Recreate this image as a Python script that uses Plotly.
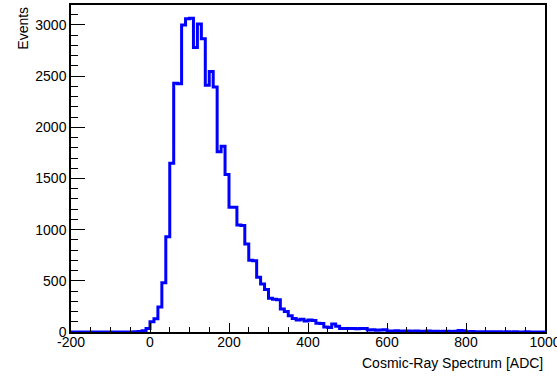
import plotly.graph_objects as go

# ---- data -------------------------------------------------------------
bin_low = -200
bin_width = 10
counts = [
    # -200 .. -10
    0, 0, 0, 0, 0, 0, 0, 0, 0, 0, 0, 0, 0, 0, 0, 0, 2, 5, 12, 33,
    # 0 .. 90
    100, 130, 245, 480, 930, 1650, 2430, 2425, 3000, 3060,
    # 100 .. 190
    3065, 2780, 3010, 2865, 2410, 2545, 2395, 1760, 1815, 1540,
    # 200 .. 290
    1220, 1218, 1045, 1040, 860, 700, 695, 535, 470, 415,
    # 300 .. 390
    330, 320, 315, 225, 200, 158, 133, 117, 125, 108,
    # 400 .. 490
    118, 112, 85, 82, 50, 45, 78, 55, 35, 33,
    # 500 .. 590
    35, 33, 32, 35, 33, 20, 22, 18, 20, 21,
    # 600 .. 690
    10, 9, 11, 8, 9, 10, 8, 9, 7, 8,
    # 700 .. 790
    9, 7, 8, 6, 7, 8, 6, 7, 15, 12,
    # 800 .. 890
    3, 4, 2, 3, 2, 2, 3, 2, 2, 1,
    # 900 .. 990
    2, 1, 2, 1, 1, 2, 1, 1, 1, 1,
]
x_tickvals = [-200, 0, 200, 400, 600, 800, 1000]
x_ticktext = ["-200", "0", "200", "400", "600", "800", "1000"]
y_tickvals = [0, 500, 1000, 1500, 2000, 2500, 3000]
y_ticktext = ["0", "500", "1000", "1500", "2000", "2500", "3000"]
x_title = "Cosmic-Ray Spectrum [ADC]"
y_title = "Events"

edges = [bin_low + i * bin_width for i in range(len(counts) + 1)]
ys = counts + [counts[-1]]

FONT = "Liberation Sans, Arial, Helvetica, sans-serif"

fig = go.Figure()
fig.add_trace(go.Scatter(
    x=edges, y=ys, mode="lines", line_shape="hv",
    line=dict(color="#0000ff", width=3), showlegend=False, hoverinfo="skip",
))

fig.update_layout(
    width=557, height=377,
    margin=dict(l=71, r=12, t=5, b=45, autoexpand=False),
    paper_bgcolor="white", plot_bgcolor="white",
    font=dict(family=FONT, size=14, color="black"),
    xaxis=dict(
        range=[-200, 1000], tickmode="array", tickvals=x_tickvals, ticktext=x_ticktext,
        showgrid=False, zeroline=False, automargin=False,
        showline=True, mirror=True, linecolor="black", linewidth=1.5,
        ticks="inside", ticklen=9, tickcolor="black", tickwidth=1,
        ticklabeloverflow="allow", ticklabelstandoff=-4,
        minor=dict(dtick=50, tick0=0, ticks="inside", ticklen=5, tickcolor="black", tickwidth=1, showgrid=False),
        tickfont=dict(family=FONT, size=14, color="black"),
    ),
    yaxis=dict(
        range=[0, 3195], tickmode="array", tickvals=y_tickvals, ticktext=y_ticktext,
        showgrid=False, zeroline=False, automargin=False,
        showline=True, mirror=True, linecolor="black", linewidth=1.5,
        ticks="inside", ticklen=14, tickcolor="black", tickwidth=1,
        ticklabeloverflow="allow",
        minor=dict(dtick=100, tick0=0, ticks="inside", ticklen=7, tickcolor="black", tickwidth=1, showgrid=False),
        tickfont=dict(family=FONT, size=14, color="black"),
    ),
    annotations=[
        dict(text=x_title, xref="paper", yref="paper", x=1, y=-0.095,
             xanchor="right", yanchor="middle", showarrow=False,
             font=dict(family=FONT, size=14, color="black")),
        dict(text=y_title, xref="paper", yref="paper", x=-0.103, y=1,
             xanchor="center", yanchor="top", textangle=-90, showarrow=False,
             font=dict(family=FONT, size=14, color="black")),
    ],
)

fig.write_html(
    "out.html",
    config={"displayModeBar": False},
    post_script="document.body.style.margin='0';document.body.style.overflow='hidden';",
)
